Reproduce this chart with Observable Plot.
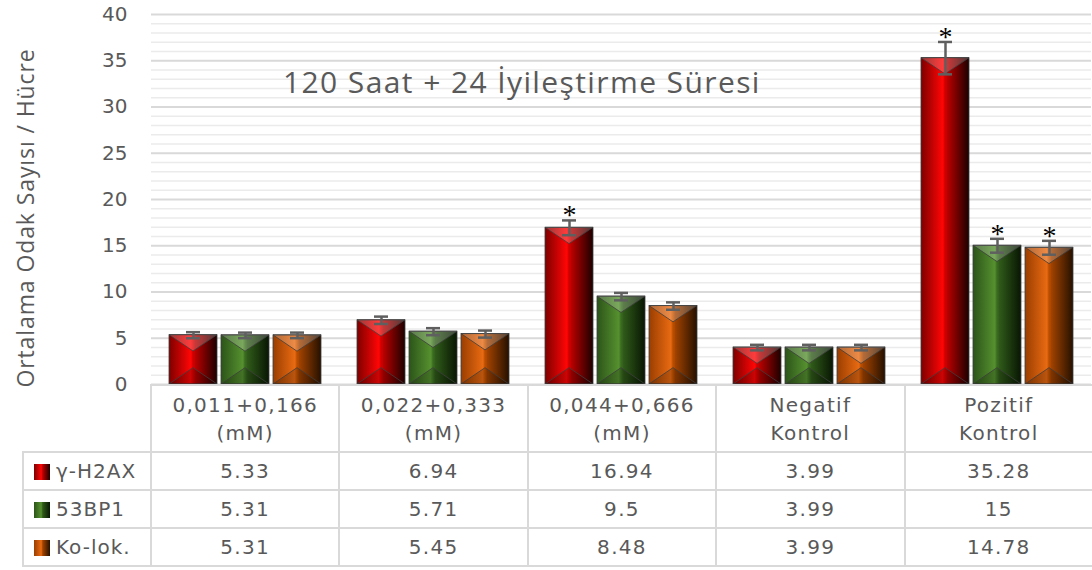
<!DOCTYPE html>
<html><head><meta charset="utf-8">
<script src="https://cdn.jsdelivr.net/npm/d3@7"></script>
<script src="https://cdn.jsdelivr.net/npm/@observablehq/plot@0.6"></script>
<style>
body{margin:0;background:#fff;font-family:"DejaVu Sans",sans-serif;}
#wrap{position:relative;width:1092px;height:570px;overflow:hidden;background:#fff}
#chart{position:absolute;left:0;top:0}
#title{position:absolute;left:283px;top:61px;font-family:"Open Sans",sans-serif;font-size:30px;letter-spacing:1.4px;color:#595959;white-space:nowrap}
#ylabel{position:absolute;left:25px;top:218px;transform:translate(-50%,-50%) rotate(-90deg);font-family:"Open Sans",sans-serif;font-size:23px;letter-spacing:0.9px;color:#595959;white-space:nowrap}
#tbl{position:absolute;left:22px;top:384px;border-collapse:collapse;table-layout:fixed;color:#595959;font-size:20px;letter-spacing:1.3px;width:1070px}
#tbl td{border:2px solid #d9d9d9;text-align:center;padding:0;box-sizing:border-box}
#tbl tr.hdr td{height:67px;line-height:28px}
#tbl tr.row td{height:38px}
#tbl td.blank{border-top:none;border-left:none}
#tbl td.lg{text-align:left;padding-left:10px;letter-spacing:1px}
.sw{display:inline-block;width:16px;height:16px;vertical-align:-2px;margin-right:6px}
</style></head><body>
<div id="wrap"><div id="chart"></div><div id="title">120 Saat + 24 İyileştirme Süresi</div><div id="ylabel">Ortalama Odak Sayısı / Hücre</div><table id="tbl"></table></div>
<script>
const categories = ["0,011+0,166\n(mM)","0,022+0,333\n(mM)","0,044+0,666\n(mM)","Negatif\nKontrol","Pozitif\nKontrol"];
const series = ["γ-H2AX","53BP1","Ko-lok."];
const h2ax = [5.33, 6.94, 16.94, 3.99, 35.28];
const bp1 = [5.31, 5.71, 9.5, 3.99, 15];
const kolok = [5.31, 5.45, 8.48, 3.99, 14.78];
const h2axErr = [0.33, 0.4, 0.8, 0.3, 1.75];
const bp1Err = [0.3, 0.38, 0.4, 0.3, 0.75];
const kolokErr = [0.3, 0.38, 0.4, 0.3, 0.75];
const h2axSig = [0, 0, 1, 0, 1];
const bp1Sig = [0, 0, 0, 0, 1];
const kolokSig = [0, 0, 0, 0, 1];
const yTicks = [0, 5, 10, 15, 20, 25, 30, 35, 40];
const minorTicks = d3.range(0, 41, 1).filter(v => v % 5 !== 0);

const seriesValues = [h2ax, bp1, kolok];
const seriesErr = [h2axErr, bp1Err, kolokErr];
const seriesSig = [h2axSig, bp1Sig, kolokSig];
const gradIds = ["gRed", "gGreen", "gOrange"];
const gradStops = [
  [["0","#7e0000"],["0.45","#ff0505"],["0.5","#e00000"],["0.55","#b80000"],["1","#1c0000"]],
  [["0","#2c5419"],["0.45","#55902f"],["0.5","#3f7323"],["0.55","#2f5a19"],["1","#081603"]],
  [["0","#9a3e00"],["0.45","#e86a12"],["0.5","#c85400"],["0.55","#a04200"],["1","#251000"]]
];

const rows = [];
series.forEach((s, i) => categories.forEach((c, j) => rows.push({
  category: c, series: s, value: seriesValues[i][j], err: seriesErr[i][j], sig: seriesSig[i][j]
})));

const chart = Plot.plot({
  width: 1092, height: 400,
  marginLeft: 150, marginRight: 0, marginTop: 14, marginBottom: 16,
  style: {fontFamily: "DejaVu Sans, sans-serif", fontSize: "20px", color: "#595959", background: "transparent"},
  fx: {domain: categories, padding: 0, axis: null},
  x: {domain: series, paddingInner: 0.08, paddingOuter: 0.336, axis: null},
  y: {domain: [0, 40], axis: null},
  color: {domain: series, range: gradIds.map(id => `url(#${id})`)},
  marks: [
    Plot.ruleY(minorTicks, {stroke: "#ebebeb", strokeWidth: 1.5}),
    Plot.ruleY(yTicks, {stroke: "#d9d9d9", strokeWidth: 2}),
    Plot.axisY({ticks: yTicks, tickSize: 0, tickPadding: 24, fontSize: 20, label: null}),
    Plot.barY(rows, {fx: "category", x: "series", y: "value", fill: "series", stroke: "#3d3d3d", strokeWidth: 0.8}),
    Plot.ruleX(rows, {fx: "category", x: "series", y1: d => d.value - d.err, y2: d => d.value + d.err, stroke: "#5f5f5f", strokeWidth: 2.5}),
    Plot.tickY(rows, {fx: "category", x: "series", y: d => d.value + d.err, stroke: "#5f5f5f", strokeWidth: 2.5, insetLeft: 17, insetRight: 17}),
    Plot.tickY(rows, {fx: "category", x: "series", y: d => d.value - d.err, stroke: "#5f5f5f", strokeWidth: 2.5, insetLeft: 17, insetRight: 17}),
    Plot.text(rows.filter(d => d.sig), {fx: "category", x: "series", y: d => d.value + d.err, text: () => "*", fill: "black", fontFamily: "Liberation Serif", fontSize: 28, lineAnchor: "bottom", dy: 4})
  ]
});

const svg = d3.select(chart);
const defs = svg.insert("defs", ":first-child");
gradIds.forEach((id, i) => {
  const g = defs.append("linearGradient").attr("id", id).attr("x1", 0).attr("x2", 1).attr("y1", 0).attr("y2", 0);
  gradStops[i].forEach(([o, c]) => g.append("stop").attr("offset", o).attr("stop-color", c));
});
document.getElementById("chart").appendChild(chart);

// bevel overlay on each drawn bar
svg.selectAll('g[aria-label="bar"] rect').each(function() {
  const r = d3.select(this);
  const x = +r.attr("x"), y = +r.attr("y"), w = +r.attr("width"), h = +r.attr("height");
  if (!(w > 0 && h > 0)) return;
  const d = Math.min(w * 0.34, h / 2);
  const p = d3.select(this.parentNode);
  p.append("polygon").attr("points", `${x},${y} ${x + w},${y} ${x + w / 2},${y + d}`).attr("fill", "white").attr("fill-opacity", 0.22);
  p.append("polygon").attr("points", `${x},${y + h} ${x + w},${y + h} ${x + w / 2},${y + h - d}`).attr("fill", "black").attr("fill-opacity", 0.2);
  p.append("line").attr("x1", x + w / 2).attr("x2", x + w / 2).attr("y1", y + d).attr("y2", y + h - d).attr("stroke", "black").attr("stroke-opacity", 0.12);
});

// table
const swatchCss = gradStops.map(st => `linear-gradient(90deg, ${st.map(([o, c]) => `${c} ${o * 100}%`).join(", ")})`);
const tbl = d3.select("#tbl");
const cg = tbl.append("colgroup");
cg.append("col").style("width", "128px");
categories.forEach(() => cg.append("col").style("width", "188.4px"));
const hdr = tbl.append("tr").attr("class", "hdr");
hdr.append("td").attr("class", "blank");
categories.forEach(c => hdr.append("td").html(c.split("\n").join("<br>")));
series.forEach((s, i) => {
  const tr = tbl.append("tr").attr("class", "row");
  const lg = tr.append("td").attr("class", "lg");
  lg.append("span").attr("class", "sw").style("background", swatchCss[i]);
  lg.append("span").text(s);
  seriesValues[i].forEach(v => tr.append("td").text(String(v)));
});
</script>
</body></html>
